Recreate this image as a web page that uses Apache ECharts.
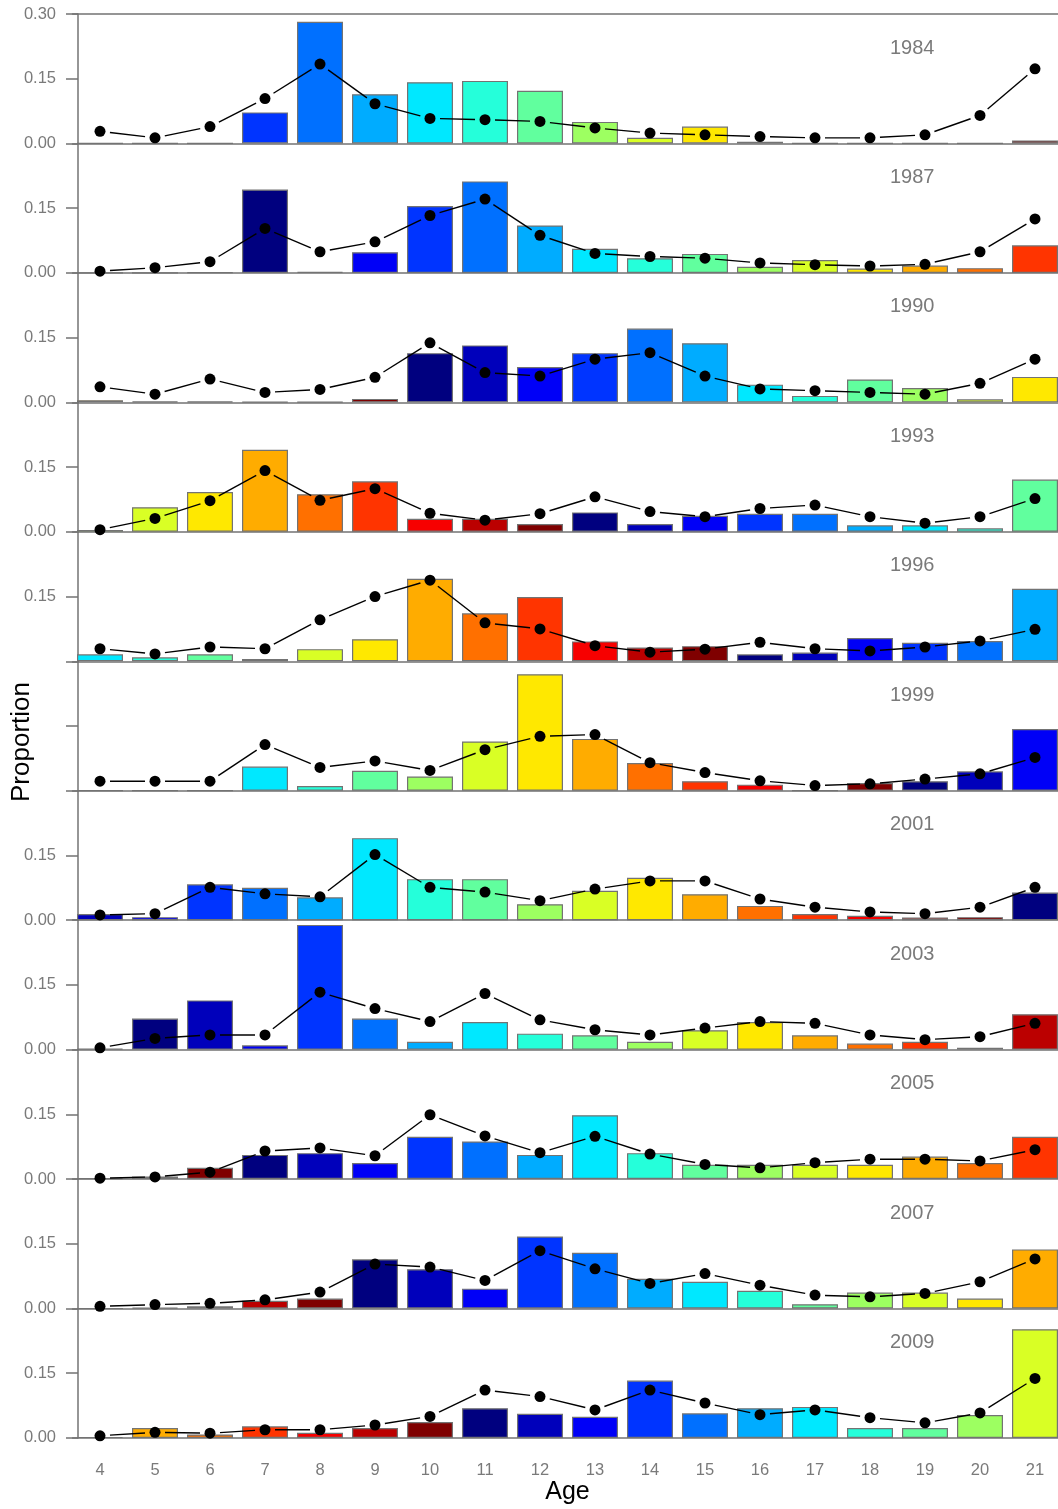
<!DOCTYPE html>
<html>
<head>
<meta charset="utf-8">
<script src="https://cdn.jsdelivr.net/npm/echarts@6/dist/echarts.min.js"></script>
<style>
  html, body { margin: 0; padding: 0; background: #fff; }
  #chart { width: 1058px; height: 1509px; }
</style>
</head>
<body>
<div id="chart"></div>
<script>
// ages on the x axis, one panel per survey year
const ages = [4, 5, 6, 7, 8, 9, 10, 11, 12, 13, 14, 15, 16, 17, 18, 19, 20, 21];
const years = [1984, 1987, 1990, 1993, 1996, 1999, 2001, 2003, 2005, 2007, 2009];

// observed proportions (bars)
const bars1984 = [0, 0, 0, 0.072, 0.282, 0.114, 0.142, 0.145, 0.122, 0.050, 0.013, 0.039, 0.004, 0, 0, 0, 0, 0.007];
const bars1987 = [0, 0, 0.001, 0.193, 0.002, 0.048, 0.155, 0.212, 0.110, 0.056, 0.034, 0.044, 0.014, 0.030, 0.010, 0.017, 0.011, 0.064];
const bars1990 = [0.005, 0.002, 0.002, 0.001, 0.001, 0.008, 0.114, 0.132, 0.082, 0.114, 0.171, 0.137, 0.041, 0.015, 0.053, 0.033, 0.007, 0.059];
const bars1993 = [0.004, 0.057, 0.092, 0.190, 0.087, 0.117, 0.030, 0.030, 0.018, 0.045, 0.018, 0.037, 0.042, 0.042, 0.015, 0.015, 0.008, 0.121];
const bars1996 = [0.016, 0.009, 0.016, 0.005, 0.028, 0.051, 0.191, 0.111, 0.149, 0.046, 0.032, 0.035, 0.016, 0.020, 0.054, 0.043, 0.047, 0.168];
const bars1999 = [0, 0, 0, 0.056, 0.011, 0.046, 0.033, 0.114, 0.270, 0.120, 0.064, 0.022, 0.014, 0, 0.018, 0.022, 0.045, 0.143];
const bars2001 = [0.014, 0.007, 0.083, 0.075, 0.053, 0.190, 0.095, 0.095, 0.037, 0.068, 0.098, 0.060, 0.033, 0.014, 0.010, 0.006, 0.007, 0.064];
const bars2003 = [0.002, 0.072, 0.114, 0.010, 0.289, 0.072, 0.018, 0.064, 0.037, 0.033, 0.018, 0.045, 0.064, 0.033, 0.014, 0.018, 0.004, 0.082];
const bars2005 = [0.002, 0.006, 0.026, 0.056, 0.060, 0.037, 0.098, 0.087, 0.056, 0.148, 0.060, 0.033, 0.033, 0.033, 0.033, 0.052, 0.037, 0.098];
const bars2007 = [0, 0.002, 0.005, 0.018, 0.023, 0.114, 0.091, 0.046, 0.167, 0.129, 0.069, 0.062, 0.041, 0.010, 0.037, 0.037, 0.023, 0.137];
const bars2009 = [0.002, 0.023, 0.008, 0.027, 0.012, 0.023, 0.037, 0.069, 0.056, 0.049, 0.133, 0.057, 0.069, 0.072, 0.023, 0.023, 0.053, 0.252];

// fitted proportions (points + line)
const fit1984 = [0.028, 0.013, 0.039, 0.104, 0.184, 0.092, 0.058, 0.055, 0.051, 0.036, 0.024, 0.020, 0.016, 0.013, 0.013, 0.020, 0.065, 0.173];
const fit1987 = [0.004, 0.012, 0.026, 0.103, 0.049, 0.072, 0.133, 0.171, 0.087, 0.045, 0.038, 0.034, 0.023, 0.019, 0.016, 0.020, 0.049, 0.125];
const fit1990 = [0.036, 0.019, 0.054, 0.023, 0.030, 0.058, 0.138, 0.069, 0.061, 0.100, 0.115, 0.061, 0.031, 0.027, 0.023, 0.019, 0.044, 0.100];
const fit1993 = [0.005, 0.031, 0.072, 0.142, 0.073, 0.100, 0.043, 0.027, 0.042, 0.081, 0.047, 0.035, 0.054, 0.062, 0.035, 0.020, 0.035, 0.077];
const fit1996 = [0.029, 0.017, 0.033, 0.029, 0.096, 0.150, 0.188, 0.089, 0.075, 0.036, 0.021, 0.028, 0.044, 0.029, 0.024, 0.033, 0.047, 0.074];
const fit1999 = [0.022, 0.022, 0.022, 0.107, 0.054, 0.069, 0.047, 0.095, 0.126, 0.130, 0.065, 0.042, 0.023, 0.012, 0.016, 0.027, 0.039, 0.077];
const fit2001 = [0.012, 0.015, 0.076, 0.061, 0.054, 0.152, 0.076, 0.065, 0.045, 0.072, 0.091, 0.091, 0.049, 0.030, 0.019, 0.015, 0.030, 0.076];
const fit2003 = [0.004, 0.026, 0.034, 0.034, 0.133, 0.095, 0.065, 0.130, 0.069, 0.046, 0.034, 0.050, 0.065, 0.061, 0.034, 0.023, 0.030, 0.061];
const fit2005 = [0.002, 0.005, 0.016, 0.065, 0.072, 0.054, 0.149, 0.100, 0.061, 0.099, 0.058, 0.034, 0.026, 0.038, 0.046, 0.046, 0.042, 0.068];
const fit2007 = [0.005, 0.009, 0.012, 0.020, 0.038, 0.103, 0.096, 0.065, 0.134, 0.092, 0.058, 0.081, 0.054, 0.031, 0.027, 0.035, 0.062, 0.115];
const fit2009 = [0.005, 0.013, 0.011, 0.019, 0.019, 0.030, 0.050, 0.111, 0.096, 0.065, 0.111, 0.081, 0.054, 0.065, 0.047, 0.035, 0.058, 0.138];

// y tick labels shown on each panel (the axis title hides some of them)
const yLabels = [
  [0, 0.15, 0.30], [0, 0.15], [0, 0.15], [0, 0.15], [0.15], [],
  [0, 0.15], [0, 0.15], [0, 0.15], [0, 0.15], [0, 0.15]
];

const allBars = [bars1984, bars1987, bars1990, bars1993, bars1996, bars1999, bars2001, bars2003, bars2005, bars2007, bars2009];
const allFits = [fit1984, fit1987, fit1990, fit1993, fit1996, fit1999, fit2001, fit2003, fit2005, fit2007, fit2009];

// jet colours, one per cohort (cycle of 18 year-classes)
const jet = ['#00007F', '#0000BB', '#0000F7', '#0034FF', '#0070FF', '#00ACFF', '#00E8FF', '#25FFDA', '#61FF9E',
  '#9DFF61', '#D9FF25', '#FFE800', '#FFAC00', '#FF7000', '#FF3400', '#F70000', '#BB0000', '#7F0000'];
function cohortColor(year, age) {
  const k = 1980 - (year - age);
  return jet[((k % 18) + 18) % 18];
}

const FONT = '"Liberation Sans", Arial, sans-serif';
const lineGrey = '#737373';
const textGrey = '#7a7a7a';
const top0 = 14;
const panelH = 129.45;

const grids = [], xAxes = [], yAxes = [], series = [], graphics = [];

years.forEach((yr, p) => {
  const last = p === years.length - 1;
  // plot runs a little past the right edge of the page, as in the original
  grids.push({ left: 72.5, width: 990, top: top0 + p * panelH, height: panelH, outerBoundsMode: 'none' });
  xAxes.push({
    type: 'category', gridIndex: p, data: ages, boundaryGap: true,
    axisLine: { show: true, lineStyle: { color: lineGrey, width: 1.5 } },
    axisTick: { show: false },
    axisLabel: { show: last, color: textGrey, fontSize: 16.5, fontFamily: FONT, margin: 24 },
    name: last ? 'Age' : '', nameLocation: 'middle', nameGap: 42,
    nameTextStyle: { color: '#000', fontSize: 25, fontFamily: FONT }
  });
  const shown = yLabels[p];
  yAxes.push({
    type: 'value', gridIndex: p, min: 0, max: 0.3, interval: 0.15, offset: -5.5,
    splitLine: { show: false },
    axisLine: { show: true, lineStyle: { color: lineGrey, width: 1.5 } },
    axisTick: { show: true, length: 12, lineStyle: { color: lineGrey, width: 1.5 } },
    axisLabel: {
      color: textGrey, fontSize: 16.5, fontFamily: FONT, margin: 22,
      formatter: v => shown.some(s => Math.abs(s - v) < 1e-6) ? v.toFixed(2) : ''
    }
  });

  const bars = allBars[p];
  const fit = allFits[p];
  series.push({
    type: 'bar', xAxisIndex: p, yAxisIndex: p, barWidth: 46,
    data: bars.map((v, i) => ({
      value: v,
      itemStyle: { color: cohortColor(yr, ages[i]), borderColor: lineGrey, borderWidth: 1.2 }
    })),
    silent: true, z: 2
  });
  // connecting segments, stopped short of each point
  const segs = fit.slice(0, -1).map((v, i) => [i, v, fit[i + 1]]);
  series.push({
    type: 'custom', xAxisIndex: p, yAxisIndex: p, z: 3, silent: true,
    encode: { x: 0, y: 1 },
    data: segs,
    renderItem: (params, api) => {
      const i = api.value(0);
      const a = api.coord([i, api.value(1)]);
      const b = api.coord([i + 1, api.value(2)]);
      const dx = b[0] - a[0], dy = b[1] - a[1];
      const len = Math.sqrt(dx * dx + dy * dy);
      const gap = 10;
      if (len <= 2 * gap) return null;
      const ux = dx / len, uy = dy / len;
      return {
        type: 'line',
        shape: { x1: a[0] + ux * gap, y1: a[1] + uy * gap, x2: b[0] - ux * gap, y2: b[1] - uy * gap },
        style: { stroke: '#000', lineWidth: 1.4 }
      };
    }
  });
  series.push({
    type: 'scatter', xAxisIndex: p, yAxisIndex: p, z: 4, silent: true,
    symbol: 'circle', symbolSize: 11,
    itemStyle: { color: '#000', opacity: 1 },
    data: fit.map((v, i) => [i, v])
  });

  graphics.push({
    type: 'text', left: 890, top: top0 + p * panelH + 24,
    style: { text: String(yr), fill: textGrey, font: '20px ' + FONT }
  });
});

// frame line on top of the first panel
xAxes.push({
  type: 'category', gridIndex: 0, position: 'top', data: ages,
  axisLine: { show: true, lineStyle: { color: lineGrey, width: 1.5 } },
  axisTick: { show: false }, axisLabel: { show: false }
});

graphics.push({
  type: 'text', x: 22, y: 742, rotation: Math.PI / 2,
  style: { text: 'Proportion', fill: '#000', font: '26px ' + FONT, textAlign: 'center', textVerticalAlign: 'middle' }
});

const chart = echarts.init(document.getElementById('chart'));
chart.setOption({
  animation: false,
  backgroundColor: '#fff',
  grid: grids,
  xAxis: xAxes,
  yAxis: yAxes,
  series: series,
  graphic: graphics
});
</script>
</body>
</html>
